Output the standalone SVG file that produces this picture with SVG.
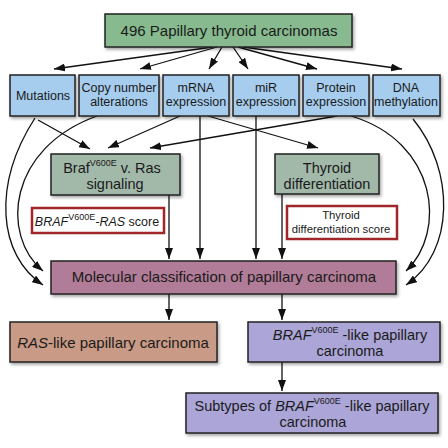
<svg xmlns="http://www.w3.org/2000/svg" width="448" height="448" viewBox="0 0 448 448">
<defs>
<filter id="sh" x="-10%" y="-10%" width="125%" height="135%">
<feDropShadow dx="1.5" dy="2" stdDeviation="1.5" flood-color="#000" flood-opacity="0.35"/>
</filter>
<marker id="ah" markerUnits="userSpaceOnUse" markerWidth="11" markerHeight="8" refX="11" refY="4" orient="auto">
<path d="M0,0 L11,4 L0,8 z" fill="#111"/>
</marker>
<style>
text{font-family:"Liberation Sans",Arial,sans-serif;fill:#1a1a1a;text-anchor:middle}
.box{stroke:#222;stroke-width:1.5;filter:url(#sh)}
.top{fill:#87bb8f}
.data{fill:#a6cdee}
.mid{fill:#a2b9aa}
.score{fill:#fff;stroke:#a0262a;stroke-width:2.5}
.mol{fill:#b17c97}
.ras{fill:#c99a86}
.braf{fill:#aca6d8}
.c{fill:none;stroke:#111;stroke-width:1.3;marker-end:url(#ah)}
.f15{font-size:15px}
.f14{font-size:14.5px}
.f12{font-size:12.5px}
.f11{font-size:11.3px}
.sup{font-size:9px}
.i{font-style:italic}
</style>
</defs>
<rect width="448" height="448" fill="#fff"/>

<g id="connectors">
<path class="c" d="M213,47 L54,69"/>
<path class="c" d="M217,47 L140,69"/>
<path class="c" d="M222,47 L209,69"/>
<path class="c" d="M233,47 L248,69"/>
<path class="c" d="M238,47 L317,69"/>
<path class="c" d="M243,47 L402,69"/>

<path class="c" d="M38,120 L90,149"/>
<path class="c" d="M180,116 L108,148"/>
<path class="c" d="M337,116 L150,148"/>
<path class="c" d="M208,116 L318,148"/>

<path class="c" d="M200,116 L200,259"/>
<path class="c" d="M256,116 L256,259"/>
<path class="c" d="M169,195 L169,259"/>
<path class="c" d="M282,194 L282,259"/>

<path class="c" d="M35,118 C-8,185 -2,255 43,285"/>
<path class="c" d="M97,116 C8,148 0,235 43,271"/>
<path class="c" d="M351,116 C438,142 447,232 406,271"/>
<path class="c" d="M413,119 C455,170 455,252 406,285"/>

<path class="c" d="M169,294 L169,320"/>
<path class="c" d="M282,294 L282,320"/>
<path class="c" d="M282,362 L282,391"/>
</g>

<g id="n-top">
<rect class="box top" x="105" y="14" width="247" height="33"/>
<text class="f15" x="229" y="36">496 Papillary thyroid carcinomas</text>
</g>

<g id="n-mutations">
<rect class="box data" x="10" y="75" width="65" height="41"/>
<text class="f12" x="43" y="100">Mutations</text>
</g>
<g id="n-copy">
<rect class="box data" x="79" y="75" width="80" height="41"/>
<text class="f12" x="119" y="92">Copy number</text>
<text class="f12" x="119" y="106">alterations</text>
</g>
<g id="n-mrna">
<rect class="box data" x="163" y="75" width="66" height="41"/>
<text class="f12" x="196" y="92">mRNA</text>
<text class="f12" x="196" y="106">expression</text>
</g>
<g id="n-mir">
<rect class="box data" x="233" y="75" width="66" height="41"/>
<text class="f12" x="266" y="92">miR</text>
<text class="f12" x="266" y="106">expression</text>
</g>
<g id="n-protein">
<rect class="box data" x="303" y="75" width="66" height="41"/>
<text class="f12" x="336" y="92">Protein</text>
<text class="f12" x="336" y="106">expression</text>
</g>
<g id="n-dna">
<rect class="box data" x="373" y="75" width="67" height="41"/>
<text class="f12" x="406" y="92">DNA</text>
<text class="f12" x="406" y="106">methylation</text>
</g>

<g id="n-braf-ras">
<rect class="box mid" x="51" y="154" width="129" height="41"/>
<text class="f14" x="112" y="173">Braf<tspan class="sup" dy="-7">V600E</tspan><tspan dy="7"> v. Ras</tspan></text>
<text class="f14" x="115" y="189">signaling</text>
</g>
<g id="n-thyroid">
<rect class="box mid" x="275" y="154" width="104" height="40"/>
<text class="f14" x="327" y="173">Thyroid</text>
<text class="f14" x="327" y="189">differentiation</text>
</g>

<g id="n-braf-score">
<rect class="score" x="32" y="208" width="132" height="25"/>
<text class="f12" x="97" y="226"><tspan class="i">BRAF</tspan><tspan class="sup" dy="-6">V600E</tspan><tspan class="i" dy="6">-RAS</tspan> score</text>
</g>
<g id="n-thyroid-score">
<rect class="score" x="287" y="206" width="110" height="33"/>
<text class="f11" x="341" y="219">Thyroid</text>
<text class="f11" x="341" y="233">differentiation score</text>
</g>

<g id="n-molecular">
<rect class="box mol" x="51" y="261" width="345" height="33"/>
<text class="f15" x="224" y="282">Molecular classification of papillary carcinoma</text>
</g>

<g id="n-ras-like">
<rect class="box ras" x="10" y="322" width="207" height="40"/>
<text class="f15" x="113" y="348"><tspan class="i">RAS</tspan>-like papillary carcinoma</text>
</g>
<g id="n-braf-like">
<rect class="box braf" x="248" y="322" width="192" height="40"/>
<text class="f14" x="350" y="340"><tspan class="i">BRAF</tspan><tspan class="sup" dy="-7">V600E</tspan><tspan dy="7"> -like papillary</tspan></text>
<text class="f14" x="350" y="356">carcinoma</text>
</g>
<g id="n-subtypes">
<rect class="box braf" x="186" y="393" width="252" height="40"/>
<text class="f14" x="312" y="411">Subtypes of <tspan class="i">BRAF</tspan><tspan class="sup" dy="-7">V600E</tspan><tspan dy="7"> -like papillary</tspan></text>
<text class="f14" x="313" y="427">carcinoma</text>
</g>
</svg>
